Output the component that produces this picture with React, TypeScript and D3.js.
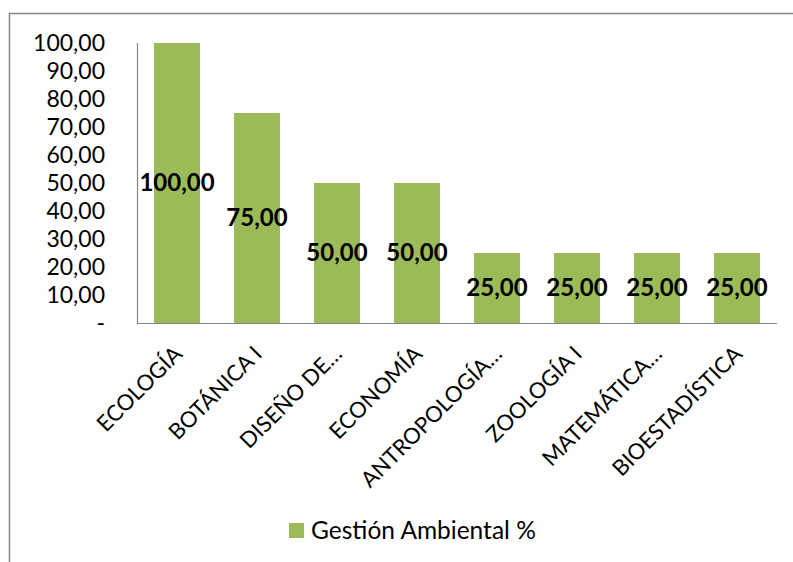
import React, { useEffect, useRef } from 'react';
import * as d3 from 'd3';

const categories = ['ECOLOGÍA', 'BOTÁNICA I', 'DISEÑO DE…', 'ECONOMÍA', 'ANTROPOLOGÍA…', 'ZOOLOGÍA I', 'MATEMÁTICA…', 'BIOESTADÍSTICA'];
const values = [100, 75, 50, 50, 25, 25, 25, 25];
const yTicks = [0, 10, 20, 30, 40, 50, 60, 70, 80, 90, 100];
const seriesName = 'Gestión Ambiental %';

const fmt = (v: number) => (v === 0 ? '-' : d3.format('.2f')(v).replace('.', ','));

export default function App() {
  const ref = useRef<SVGSVGElement>(null);

  useEffect(() => {
    const width = 793, height = 562;
    const svg = d3.select(ref.current);
    svg.selectAll('*').remove();
    svg.attr('width', width).attr('height', height);

    const font = "Lato, 'Open Sans', sans-serif";
    const green = '#9BBB59';
    const grey = '#868686';

    // outer chart frame (only top and left visible)
    svg.append('path')
      .attr('d', `M9.5,${height} V13.5 H${width}`)
      .attr('fill', 'none')
      .attr('stroke', grey)
      .attr('stroke-width', 1.5);

    const left = 137, right = 777, top = 43, bottom = 323;

    const x = d3.scaleBand().domain(categories).range([left, right]).paddingInner(0.425).paddingOuter(0.2125);
    const y = d3.scaleLinear().domain([0, 100]).range([bottom, top]);

    const g = svg.append('g');

    g.selectAll('rect.bar')
      .data(values)
      .enter().append('rect')
      .attr('class', 'bar')
      .attr('x', (d, i) => x(categories[i])!)
      .attr('y', d => y(d))
      .attr('width', x.bandwidth())
      .attr('height', d => y(0) - y(d))
      .attr('fill', green);

    // axes lines
    g.append('line').attr('x1', left + 0.5).attr('x2', left + 0.5).attr('y1', top).attr('y2', bottom)
      .attr('stroke', grey).attr('stroke-width', 1.2);
    g.append('line').attr('x1', left).attr('x2', right).attr('y1', bottom + 0.5).attr('y2', bottom + 0.5)
      .attr('stroke', grey).attr('stroke-width', 1.2);

    // y tick labels
    g.selectAll('text.ytick')
      .data(yTicks)
      .enter().append('text')
      .attr('class', 'ytick')
      .attr('x', 105)
      .attr('y', d => y(d))
      .attr('dy', '0.35em')
      .attr('text-anchor', 'end')
      .style('font-family', font)
      .style('font-size', '23px')
      .attr('fill', '#000')
      .text(fmt);

    // data labels
    g.selectAll('text.dlabel')
      .data(values)
      .enter().append('text')
      .attr('class', 'dlabel')
      .attr('x', (d, i) => x(categories[i])! + x.bandwidth() / 2)
      .attr('y', d => (y(d) + y(0)) / 2)
      .attr('dy', '0.35em')
      .attr('text-anchor', 'middle')
      .style('font-family', font)
      .style('font-size', '24px')
      .style('font-weight', 'bold')
      .attr('fill', '#000')
      .text(fmt);

    // category labels
    g.selectAll('text.xlabel')
      .data(categories)
      .enter().append('text')
      .attr('class', 'xlabel')
      .attr('transform', d => `translate(${x(d)! + x.bandwidth() / 2 + 1},${bottom + 27}) rotate(-45)`)
      .attr('text-anchor', 'end')
      .attr('dy', '0.35em')
      .style('font-family', font)
      .style('font-size', '22px')
      .attr('fill', '#000')
      .text(d => d);

    // legend
    const legend = svg.append('g').attr('transform', 'translate(289,523)');
    legend.append('rect').attr('width', 15).attr('height', 15).attr('fill', green);
    legend.append('text')
      .attr('x', 22)
      .attr('y', 7.5)
      .attr('dy', '0.35em')
      .style('font-family', font)
      .style('font-size', '24.5px')
      .attr('fill', '#000')
      .text(seriesName);
  }, []);

  return <svg ref={ref} style={{ position: 'absolute', left: 0, top: 0 }}></svg>;
}
